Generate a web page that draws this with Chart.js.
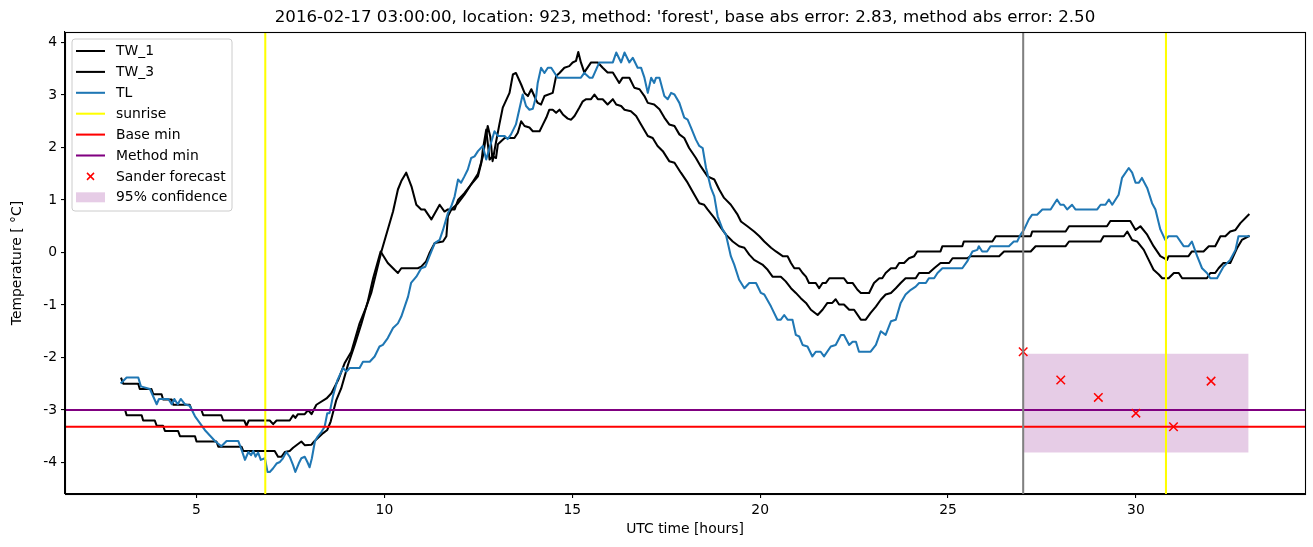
<!DOCTYPE html>
<html><head><meta charset="utf-8">
<script src="https://cdn.jsdelivr.net/npm/chart.js@4.4.1/dist/chart.umd.min.js"></script>
<style>html,body{margin:0;padding:0;background:#fff}canvas{display:block}</style>
</head><body>
<canvas id="c" width="1313" height="547"></canvas>
<script>
// ---------- data (hours UTC, temperature °C) ----------
const titleText = "2016-02-17 03:00:00, location: 923, method: 'forest', base abs error: 2.83, method abs error: 2.50";

const tw1Hours = [3.0,3.05,3.45,3.49,3.8,3.85,4.07,4.11,4.34,4.38,4.82,4.87,5.13,5.18,5.66,5.71,6.27,6.33,6.39,6.95,7.04,7.13,7.48,7.57,7.63,7.7,7.88,7.97,8.06,8.19,8.46,8.59,8.77,8.94,9.12,9.34,9.52,9.65,9.92,10.23,10.36,10.45,10.58,10.72,10.85,10.98,11.07,11.25,11.47,11.6,11.69,11.87,11.96,12.13,12.31,12.49,12.62,12.75,12.82,12.88,12.97,13.06,13.15,13.33,13.42,13.5,13.64,13.73,13.82,13.91,14.04,14.08,14.17,14.26,14.48,14.57,14.66,14.79,14.92,15.01,15.1,15.16,15.23,15.32,15.5,15.68,15.81,15.94,16.08,16.25,16.34,16.52,16.65,16.79,16.92,17.01,17.18,17.32,17.45,17.58,17.72,17.85,17.98,18.11,18.29,18.42,18.6,18.78,18.91,19.04,19.22,19.4,19.49,19.66,19.84,19.98,20.11,20.29,20.42,20.6,20.73,20.82,20.91,21.04,21.13,21.22,21.3,21.48,21.57,21.66,21.75,21.84,22.23,22.32,22.46,22.59,22.68,22.9,23.03,23.17,23.25,23.34,23.48,23.61,23.7,23.83,23.96,24.1,24.18,24.8,24.85,25.38,25.42,26.18,26.27,27.2,27.24,28.13,28.22,29.23,29.32,29.85,29.99,30.12,30.3,30.47,30.65,30.83,30.87,31.4,31.49,31.8,31.94,32.11,32.25,32.38,32.51,32.65,32.78,33.0];
const tw1Temp = [-2.4,-2.5,-2.5,-2.6,-2.6,-2.7,-2.7,-2.8,-2.8,-2.9,-2.9,-3.0,-3.0,-3.1,-3.1,-3.2,-3.2,-3.3,-3.2,-3.2,-3.27,-3.2,-3.2,-3.1,-3.15,-3.08,-3.08,-3.0,-3.08,-2.9,-2.78,-2.68,-2.43,-2.11,-1.89,-1.35,-1.03,-0.77,0.02,0.78,1.2,1.36,1.52,1.26,0.91,0.82,0.82,0.63,0.91,0.78,0.82,0.82,1.0,1.13,1.3,1.5,1.83,2.41,2.2,1.74,2.1,2.44,2.76,3.04,3.39,3.42,3.2,3.04,2.98,3.11,2.9,2.85,2.82,2.98,3.04,3.36,3.42,3.52,3.55,3.62,3.65,3.82,3.62,3.43,3.62,3.62,3.52,3.43,3.43,3.23,3.33,3.33,3.14,3.11,2.98,2.85,2.82,2.73,2.57,2.44,2.41,2.25,2.18,1.99,1.8,1.64,1.45,1.39,1.2,1.04,0.91,0.72,0.59,0.5,0.4,0.31,0.21,0.09,0.02,-0.07,-0.07,-0.2,-0.3,-0.3,-0.39,-0.46,-0.58,-0.58,-0.68,-0.58,-0.58,-0.49,-0.49,-0.58,-0.58,-0.71,-0.77,-0.77,-0.58,-0.49,-0.49,-0.39,-0.3,-0.3,-0.2,-0.2,-0.11,-0.07,0.02,0.02,0.12,0.12,0.21,0.21,0.31,0.31,0.4,0.4,0.5,0.5,0.6,0.6,0.43,0.5,0.34,0.12,-0.07,-0.14,-0.07,-0.07,0.02,0.02,0.12,0.12,0.31,0.31,0.4,0.43,0.56,0.72];

const tw3Hours = [3.0,3.1,3.14,3.54,3.58,3.89,3.94,4.11,4.16,4.51,4.56,4.96,5.0,5.53,5.58,6.2,6.24,7.08,7.17,7.26,7.35,7.48,7.57,7.79,7.88,8.06,8.13,8.37,8.48,8.57,8.72,8.85,9.03,9.21,9.39,9.56,9.7,9.9,10.09,10.27,10.36,10.45,10.89,10.98,11.11,11.2,11.34,11.56,11.65,11.69,11.78,11.96,12.13,12.31,12.49,12.58,12.62,12.71,12.8,12.88,12.97,13.02,13.2,13.46,13.55,13.64,13.73,13.86,13.95,14.13,14.22,14.31,14.39,14.48,14.57,14.66,14.75,14.88,14.97,15.06,15.19,15.28,15.37,15.5,15.59,15.68,15.81,15.94,16.08,16.17,16.3,16.39,16.56,16.7,16.83,17.01,17.14,17.27,17.41,17.58,17.72,17.89,18.07,18.25,18.38,18.51,18.6,18.78,18.96,19.09,19.27,19.44,19.58,19.71,19.84,20.06,20.2,20.33,20.55,20.68,20.82,20.95,21.08,21.22,21.35,21.53,21.66,21.79,21.92,22.01,22.1,22.23,22.37,22.5,22.68,22.81,22.94,23.08,23.21,23.34,23.48,23.61,23.74,23.87,24.14,24.23,24.49,24.63,24.8,25.03,25.12,25.51,25.6,26.36,26.49,27.2,27.33,28.13,28.22,29.06,29.14,29.68,29.77,29.9,30.03,30.21,30.34,30.47,30.61,30.7,30.87,31.01,31.14,31.23,31.89,31.98,32.11,32.2,32.33,32.51,32.69,32.82,33.0];
const tw3Temp = [-3.0,-3.0,-3.1,-3.1,-3.2,-3.2,-3.3,-3.3,-3.4,-3.4,-3.5,-3.5,-3.6,-3.6,-3.7,-3.7,-3.78,-3.78,-3.89,-3.89,-3.8,-3.78,-3.72,-3.6,-3.67,-3.66,-3.6,-3.44,-3.38,-3.22,-2.81,-2.59,-2.14,-1.76,-1.35,-0.93,-0.49,0.02,-0.2,-0.33,-0.39,-0.3,-0.3,-0.27,-0.17,-0.01,0.18,0.21,0.31,0.69,0.82,0.94,1.1,1.3,1.45,1.71,1.96,2.34,1.77,1.83,1.8,2.06,2.18,2.18,2.28,2.5,2.41,2.38,2.31,2.31,2.44,2.57,2.72,2.72,2.66,2.72,2.63,2.55,2.53,2.6,2.76,2.88,2.92,2.92,3.01,2.92,2.92,2.82,2.92,2.82,2.79,2.72,2.69,2.6,2.44,2.22,2.18,2.03,1.93,1.74,1.71,1.52,1.33,1.1,0.94,0.91,0.82,0.66,0.47,0.34,0.21,0.12,0.09,-0.04,-0.14,-0.23,-0.33,-0.46,-0.46,-0.55,-0.68,-0.77,-0.87,-0.96,-1.09,-1.19,-1.09,-0.96,-0.96,-0.89,-0.99,-0.99,-1.09,-1.09,-1.28,-1.28,-1.15,-1.03,-0.9,-0.8,-0.77,-0.68,-0.58,-0.49,-0.49,-0.39,-0.39,-0.3,-0.2,-0.2,-0.11,-0.11,-0.07,-0.07,0.02,0.02,0.12,0.12,0.21,0.21,0.31,0.31,0.4,0.24,0.21,0.05,-0.14,-0.33,-0.42,-0.49,-0.49,-0.39,-0.39,-0.49,-0.49,-0.39,-0.39,-0.3,-0.2,-0.2,0.08,0.24,0.31];

const tlHours = [3.0,3.14,3.45,3.52,3.76,3.94,4.0,4.25,4.34,4.41,4.5,4.58,4.69,4.82,4.96,5.22,5.49,5.66,5.8,6.11,6.2,6.29,6.38,6.45,6.51,6.57,6.64,6.71,6.82,6.89,6.95,7.04,7.13,7.22,7.3,7.39,7.48,7.57,7.63,7.72,7.79,7.88,7.95,8.01,8.07,8.15,8.22,8.33,8.41,8.48,8.54,8.63,8.75,8.9,8.99,9.08,9.34,9.43,9.61,9.74,9.87,9.96,10.09,10.23,10.36,10.45,10.54,10.63,10.71,10.85,10.98,11.09,11.2,11.34,11.47,11.56,11.69,11.78,11.87,11.96,12.04,12.13,12.22,12.31,12.4,12.49,12.62,12.71,12.8,12.93,13.02,13.2,13.28,13.37,13.5,13.68,13.77,13.86,13.95,14.04,14.08,14.17,14.26,14.35,14.44,14.53,14.61,15.23,15.32,15.46,15.54,15.72,16.08,16.17,16.3,16.39,16.52,16.61,16.74,16.83,16.92,17.01,17.1,17.18,17.23,17.32,17.45,17.54,17.63,17.72,17.85,17.98,18.07,18.16,18.29,18.38,18.47,18.56,18.69,18.78,18.87,19.0,19.09,19.22,19.31,19.44,19.58,19.71,19.89,20.02,20.11,20.29,20.46,20.55,20.64,20.73,20.86,20.95,21.04,21.13,21.26,21.39,21.48,21.61,21.7,21.88,22.01,22.15,22.23,22.37,22.46,22.55,22.63,22.94,23.08,23.21,23.34,23.48,23.61,23.74,23.87,24.01,24.14,24.23,24.41,24.49,24.63,24.72,24.85,25.38,25.51,25.65,25.78,25.82,25.91,26.04,26.13,26.62,26.75,26.84,26.93,27.02,27.15,27.24,27.37,27.51,27.73,27.9,27.99,28.08,28.17,28.3,28.39,28.97,29.06,29.19,29.28,29.37,29.54,29.63,29.81,29.9,29.99,30.08,30.16,30.3,30.43,30.52,30.65,30.78,30.87,31.09,31.27,31.4,31.49,31.63,31.76,31.89,31.98,32.16,32.33,32.51,32.65,32.73,33.0];
const tlTemp = [-2.48,-2.38,-2.38,-2.55,-2.6,-2.89,-2.79,-2.79,-2.89,-2.79,-2.89,-2.79,-2.89,-2.92,-3.12,-3.38,-3.59,-3.69,-3.59,-3.59,-3.76,-3.95,-3.8,-3.86,-3.78,-3.89,-3.81,-3.95,-3.92,-4.18,-4.18,-4.11,-4.02,-3.99,-3.92,-3.8,-3.89,-4.05,-4.18,-4.02,-3.92,-3.89,-3.99,-4.09,-3.92,-3.6,-3.51,-3.41,-3.32,-3.06,-3.06,-2.74,-2.43,-2.2,-2.27,-2.2,-2.2,-2.08,-2.08,-1.98,-1.79,-1.76,-1.63,-1.44,-1.35,-1.22,-1.03,-0.84,-0.58,-0.46,-0.3,-0.27,-0.07,0.18,0.24,0.43,0.75,0.88,1.07,1.39,1.33,1.45,1.58,1.8,1.83,1.93,2.03,1.77,2.0,2.31,2.22,2.22,2.16,2.25,2.44,3.01,2.79,2.72,2.74,2.98,3.23,3.52,3.42,3.52,3.52,3.42,3.33,3.33,3.42,3.33,3.33,3.62,3.62,3.81,3.62,3.81,3.62,3.71,3.52,3.52,3.33,3.04,3.33,3.23,3.33,3.33,2.98,2.92,3.04,3.01,2.85,2.57,2.53,2.38,2.15,2.03,1.99,1.61,1.23,1.07,0.69,0.44,0.34,-0.07,-0.23,-0.52,-0.68,-0.58,-0.58,-0.77,-0.8,-1.03,-1.28,-1.28,-1.19,-1.28,-1.28,-1.57,-1.6,-1.76,-1.79,-1.98,-1.89,-1.89,-1.98,-1.79,-1.76,-1.57,-1.57,-1.76,-1.7,-1.7,-1.89,-1.89,-1.76,-1.5,-1.57,-1.31,-1.28,-0.96,-0.8,-0.71,-0.65,-0.58,-0.58,-0.49,-0.49,-0.39,-0.3,-0.3,-0.17,0.02,0.05,0.12,0.02,0.02,0.12,0.12,0.21,0.21,0.34,0.43,0.63,0.72,0.72,0.82,0.82,1.01,0.91,0.91,0.82,0.91,0.82,0.82,0.91,0.91,1.01,0.91,1.1,1.42,1.61,1.52,1.33,1.33,1.42,1.23,0.94,0.82,0.44,0.24,0.31,0.31,0.12,0.12,0.21,-0.07,-0.3,-0.39,-0.49,-0.49,-0.27,-0.14,0.05,0.31,0.31];

const sunriseHours = [6.83, 30.8];
const forecastHour = 27.0;
const baseMin = -3.32;
const methodMin = -3.0;
const sanderHours = [27, 28, 29, 30, 31, 32];
const sanderTemp = [-1.89, -2.43, -2.76, -3.06, -3.32, -2.45];
const confHours = [27, 33];
const confLow = -3.81;
const confHigh = -1.93;

const xTicks = [5, 10, 15, 20, 25, 30];
const yTicks = [-4, -3, -2, -1, 0, 1, 2, 3, 4];
const xRange = [1.5, 34.5];
const yRange = [-4.6, 4.2];

// ---------- build ----------
const pts = (xs, ys) => xs.map((x, i) => ({x, y: ys[i]}));
const FONT = "'DejaVu Sans', sans-serif";
const LW = 2.05;

const lineBase = {type: 'line', pointRadius: 0, borderWidth: LW, tension: 0, fill: false,
  borderJoinStyle: 'round', borderCapStyle: 'square'};

const datasets = [
  {...lineBase, label: 'TW_1', data: pts(tw1Hours, tw1Temp), borderColor: '#000000', order: 9},
  {...lineBase, label: 'TW_3', data: pts(tw3Hours, tw3Temp), borderColor: '#000000', order: 8},
  {...lineBase, label: 'TL', data: pts(tlHours, tlTemp), borderColor: '#1f77b4', order: 7},
  {...lineBase, label: 'sunrise', data: [{x: sunriseHours[0], y: yRange[0]}, {x: sunriseHours[0], y: yRange[1]}], borderColor: '#ffff00', order: 6, borderCapStyle: 'butt'},
  {...lineBase, label: 'sunrise2', data: [{x: sunriseHours[1], y: yRange[0]}, {x: sunriseHours[1], y: yRange[1]}], borderColor: '#ffff00', order: 6, borderCapStyle: 'butt'},
  {...lineBase, label: 'Base min', data: [{x: xRange[0], y: baseMin}, {x: xRange[1], y: baseMin}], borderColor: '#ff0000', order: 5, borderCapStyle: 'butt'},
  {...lineBase, label: 'Method min', data: [{x: xRange[0], y: methodMin}, {x: xRange[1], y: methodMin}], borderColor: '#800080', order: 4, borderCapStyle: 'butt'},
  {type: 'line', label: 'Sander forecast', data: pts(sanderHours, sanderTemp), showLine: false,
    pointStyle: 'crossRot', pointRadius: 6, pointBorderWidth: 1.5, borderColor: '#ff0000',
    pointBorderColor: '#ff0000', backgroundColor: '#ff0000', order: 3},
  {...lineBase, label: 'confLow', data: [{x: confHours[0], y: confLow}, {x: confHours[1], y: confLow}], borderWidth: 0, borderColor: 'rgba(0,0,0,0)', order: 20},
  {...lineBase, label: '95% confidence', data: [{x: confHours[0], y: confHigh}, {x: confHours[1], y: confHigh}], borderWidth: 0, borderColor: 'rgba(0,0,0,0)',
    fill: '-1', backgroundColor: 'rgba(128,0,128,0.2)', order: 19},
  {...lineBase, label: 'forecast time', data: [{x: forecastHour, y: yRange[0]}, {x: forecastHour, y: yRange[1]}], borderColor: '#808080', order: 2, borderCapStyle: 'butt'}
];

const legendItems = [
  {text: 'TW_1', kind: 'line', color: '#000000'},
  {text: 'TW_3', kind: 'line', color: '#000000'},
  {text: 'TL', kind: 'line', color: '#1f77b4'},
  {text: 'sunrise', kind: 'line', color: '#ffff00'},
  {text: 'Base min', kind: 'line', color: '#ff0000'},
  {text: 'Method min', kind: 'line', color: '#800080'},
  {text: 'Sander forecast', kind: 'x', color: '#ff0000'},
  {text: '95% confidence', kind: 'patch', color: 'rgba(128,0,128,0.2)'}
];

const framePlugin = {
  id: 'mplFrame',
  afterDatasetsDraw(chart) {
    const ctx = chart.ctx, a = chart.chartArea;
    ctx.save();
    ctx.strokeStyle = '#000'; ctx.lineWidth = 1.1;
    ctx.strokeRect(Math.round(a.left) + 0.5, Math.round(a.top) + 0.5, Math.round(a.right - a.left), Math.round(a.bottom - a.top));
    // title, centred over the axes
    ctx.fillStyle = '#000'; ctx.textAlign = 'center'; ctx.textBaseline = 'middle';
    ctx.font = '16.67px ' + FONT;
    ctx.fillText(titleText, (a.left + a.right) / 2, 17.5);
    // legend
    const x0 = a.left + 7, y0 = a.top + 7, w = 160, h = 172, r = 3;
    ctx.beginPath();
    ctx.moveTo(x0 + r, y0); ctx.lineTo(x0 + w - r, y0); ctx.quadraticCurveTo(x0 + w, y0, x0 + w, y0 + r);
    ctx.lineTo(x0 + w, y0 + h - r); ctx.quadraticCurveTo(x0 + w, y0 + h, x0 + w - r, y0 + h);
    ctx.lineTo(x0 + r, y0 + h); ctx.quadraticCurveTo(x0, y0 + h, x0, y0 + h - r);
    ctx.lineTo(x0, y0 + r); ctx.quadraticCurveTo(x0, y0, x0 + r, y0); ctx.closePath();
    ctx.fillStyle = 'rgba(255,255,255,0.8)'; ctx.fill();
    ctx.strokeStyle = '#cccccc'; ctx.lineWidth = 1; ctx.stroke();
    ctx.font = '13.9px ' + FONT; ctx.textBaseline = 'middle'; ctx.textAlign = 'left';
    legendItems.forEach((it, i) => {
      const cy = y0 + 12 + i * 20.9;
      const lx1 = x0 + 4, lx2 = x0 + 33;
      if (it.kind === 'line') {
        ctx.strokeStyle = it.color; ctx.lineWidth = LW;
        ctx.beginPath(); ctx.moveTo(lx1, cy); ctx.lineTo(lx2, cy); ctx.stroke();
      } else if (it.kind === 'x') {
        const cx = (lx1 + lx2) / 2, s = 3.5;
        ctx.strokeStyle = it.color; ctx.lineWidth = 1.5;
        ctx.beginPath(); ctx.moveTo(cx - s, cy - s); ctx.lineTo(cx + s, cy + s);
        ctx.moveTo(cx - s, cy + s); ctx.lineTo(cx + s, cy - s); ctx.stroke();
      } else {
        ctx.fillStyle = it.color; ctx.fillRect(lx1, cy - 5, lx2 - lx1, 10);
      }
      ctx.fillStyle = '#000'; ctx.fillText(it.text, x0 + 44, cy + 0.5);
    });
    ctx.restore();
  }
};

new Chart(document.getElementById('c'), {
  data: {datasets},
  options: {
    responsive: false, animation: false, devicePixelRatio: 1,
    layout: {padding: {left: 0, right: 8, top: 32, bottom: 0}},
    plugins: {
      legend: {display: false}, tooltip: {enabled: false}, title: {display: false}
    },
    scales: {
      x: {type: 'linear', min: xRange[0], max: xRange[1],
        afterBuildTicks: s => { s.ticks = xTicks.map(v => ({value: v})); },
        afterFit: s => { s.height = 53; },
        grid: {drawOnChartArea: false, drawTicks: true, tickLength: 4, color: '#000', lineWidth: 1.1},
        border: {display: true, color: '#000', width: 1.1},
        ticks: {color: '#000', font: {family: FONT, size: 13.9}, padding: 4, maxRotation: 0},
        title: {display: true, text: 'UTC time [hours]', color: '#000', font: {family: FONT, size: 13.9}, padding: {top: 0, bottom: 9}}
      },
      y: {type: 'linear', min: yRange[0], max: yRange[1],
        afterBuildTicks: s => { s.ticks = yTicks.map(v => ({value: v})); },
        afterFit: s => { s.width = 65; },
        grid: {drawOnChartArea: false, drawTicks: true, tickLength: 4, color: '#000', lineWidth: 1.1},
        border: {display: true, color: '#000', width: 1.1},
        ticks: {color: '#000', font: {family: FONT, size: 13.9}, padding: 4},
        title: {display: true, text: 'Temperature [ °C]', color: '#000', font: {family: FONT, size: 13.9}, padding: {top: 9, bottom: 0}}
      }
    }
  },
  plugins: [framePlugin]
});
</script>
</body></html>
